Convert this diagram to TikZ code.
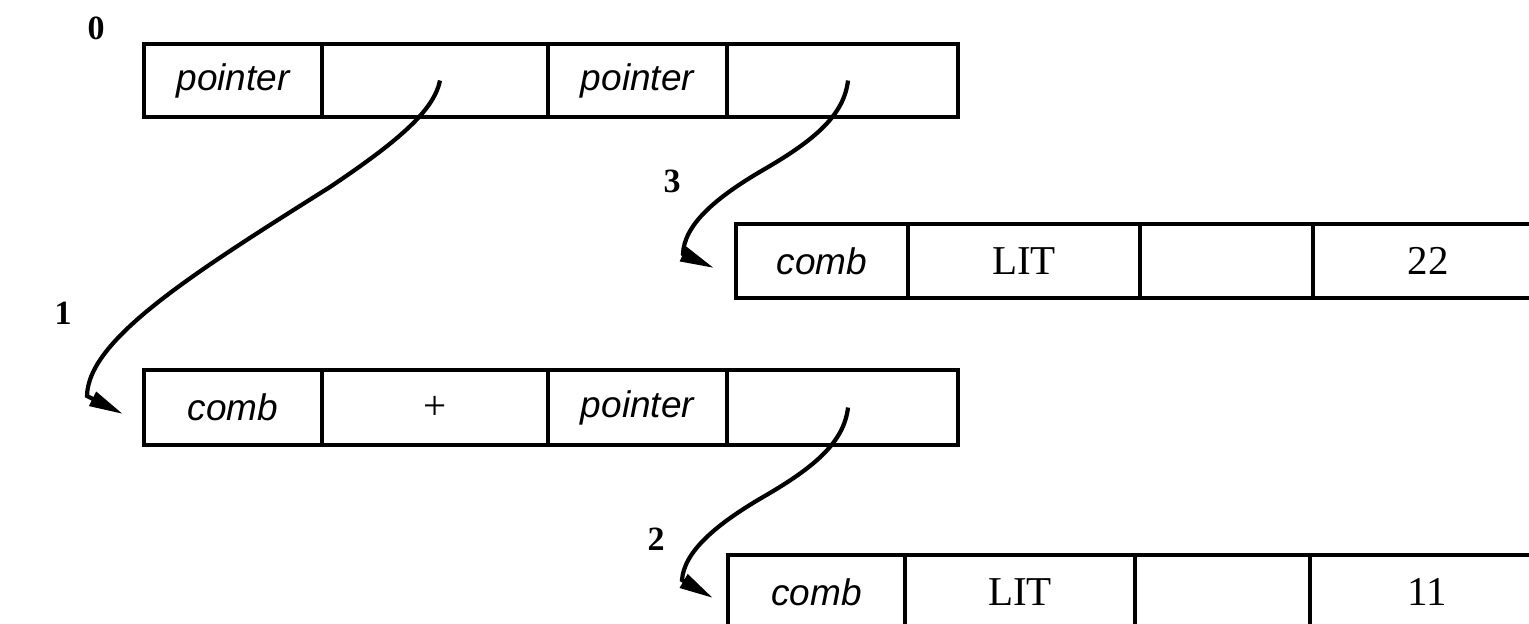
\documentclass[tikz,border=0pt]{standalone}
\usepackage{fontspec}
\setmainfont{Liberation Serif}
\newfontfamily\itsans{Liberation Sans}
\usetikzlibrary{arrows.meta}
\begin{document}
\begin{tikzpicture}[x=0.5pt,y=-0.5pt,
  cell/.style={draw, line width=1.75pt, inner sep=0pt, outer sep=0pt,
    font=\fontsize{20.5}{24}\selectfont},
  lbl/.style={font=\bfseries\fontsize{17}{20}\selectfont, inner sep=0pt},
  ptr/.style={line width=2.1pt, -{Triangle[length=17pt,width=7.5pt]}},
  r0/.style={cell, minimum height=36.5pt},
  r1/.style={cell, minimum height=37.5pt},
  r3/.style={cell, minimum height=37pt},
  r2/.style={cell, minimum height=37pt}]
\newcommand{\itx}{\itsans\itshape\fontsize{18.5}{22}\selectfont}
\useasboundingbox (0,0) rectangle (1529,623);
\begin{scope}
\clip (0,0) rectangle (1529,623);
% record 0
\node[r0, minimum width=89pt] (r0a) at (233,80.5) {\itx pointer};
\node[r0, minimum width=113pt] (r0b) at (435,80.5) {};
\node[r0, minimum width=89.5pt] (r0c) at (637.5,80.5) {\itx pointer};
\node[r0, minimum width=115.5pt] (r0d) at (842.5,80.5) {};
% record 1
\node[r1, minimum width=89pt] (r1a) at (233,407.5) {\itx comb};
\node[r1, minimum width=113pt] (r1b) at (435,407.5) {+};
\node[r1, minimum width=89.5pt] (r1c) at (637.5,407.5) {\itx pointer};
\node[r1, minimum width=115.5pt] (r1d) at (842.5,407.5) {};
% record 3
\node[r3, minimum width=86pt] (r3a) at (822,261) {\itx comb};
\node[r3, minimum width=116pt] (r3b) at (1024,261) {LIT};
\node[r3, minimum width=86.5pt] (r3c) at (1226.5,261) {};
\node[r3, minimum width=115pt] (r3d) at (1428,261) {22};
% record 2
\node[r2, minimum width=88.5pt] (r2a) at (816.5,592) {\itx comb};
\node[r2, minimum width=115pt] (r2b) at (1020,592) {LIT};
\node[r2, minimum width=87.5pt] (r2c) at (1222.5,592) {};
\node[r2, minimum width=117.5pt] (r2d) at (1427.5,592) {11};
% labels
\node[lbl] (l0) at (96,28) {0};
\node[lbl] (l1) at (63,313) {1};
\node[lbl] (l3) at (672,181) {3};
\node[lbl] (l2) at (656,539) {2};
% connectors
\draw[ptr] ([xshift=2.5pt]r0b.center) .. controls (434,110) and (400,140) .. (330,187)
  .. controls (190,275) and (88,340) .. (87,396) -- ([xshift=-10.5pt,yshift=-3.25pt]r1a.west);
\draw[ptr] ([xshift=2.75pt]r0d.center) .. controls (844,115) and (815,140) .. (763,170)
  .. controls (715,198) and (684,225) .. (683,254) -- ([xshift=-11pt,yshift=-3.5pt]r3a.west);
\draw[ptr] ([xshift=2.75pt]r1d.center) .. controls (844,442) and (815,467) .. (763,497)
  .. controls (715,525) and (684,552) .. (682,580) -- ([xshift=-7.5pt,yshift=-3pt]r2a.west);
\end{scope}
\end{tikzpicture}
\end{document}
